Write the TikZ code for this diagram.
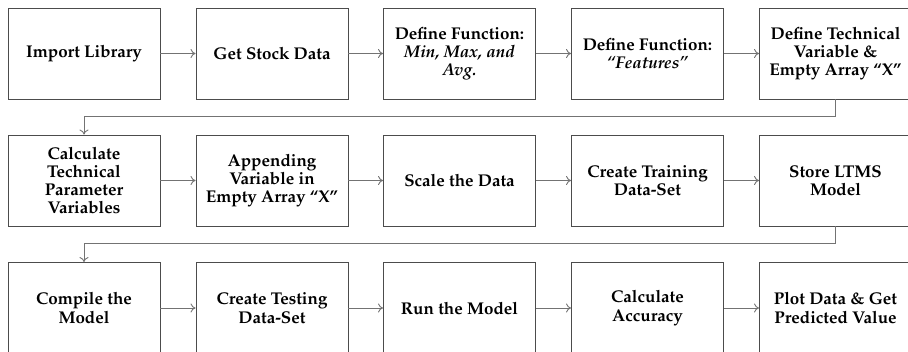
\documentclass[tikz,border=0pt]{standalone}
\usepackage[T1]{fontenc}
\usepackage{mathpazo}
\usetikzlibrary{calc,arrows.meta}
\tikzset{
  stepbox/.style={draw=black!70, line width=0.9pt, minimum width=152pt, minimum height=91pt,
    inner sep=2pt, align=center, font=\fontsize{17}{18.3}\selectfont\bfseries},
  arr/.style={draw=black!55, line width=0.9pt, -{To[length=5pt,width=9pt]}}
}
\begin{document}
\begin{tikzpicture}[x=1pt,y=-1pt]
\useasboundingbox (0,0) rectangle (908,351);
\clip (0,0) rectangle (908,351);
% row 1
\node[stepbox] (b1) at (84,53.5) {Import Library};
\node[stepbox] (b2) at (272,53.5) {Get Stock Data};
\node[stepbox] (b3) at (459.5,53.5) {Define Function:\\ \textit{Min, Max, and}\\ \textit{Avg.}};
\node[stepbox] (b4) at (647.5,53.5) {Define Function:\\ \textit{``Features''}};
\node[stepbox] (b5) at (835.5,53.5) {Define Technical\\ Variable \&\\ Empty Array ``X''};
% row 2
\node[stepbox] (b6) at (84,180.5) {Calculate\\ Technical\\ Parameter\\ Variables};
\node[stepbox] (b7) at (272,180.5) {Appending\\ Variable in\\ Empty Array ``X''};
\node[stepbox] (b8) at (459.5,180.5) {Scale the Data};
\node[stepbox] (b9) at (647.5,180.5) {Create Training\\ Data-Set};
\node[stepbox] (b10) at (835.5,180.5) {Store LTMS\\ Model};
% row 3
\node[stepbox] (b11) at (84,308) {Compile the\\ Model};
\node[stepbox] (b12) at (272,308) {Create Testing\\ Data-Set};
\node[stepbox] (b13) at (459.5,308) {Run the Model};
\node[stepbox] (b14) at (647.5,308) {Calculate\\ Accuracy};
\node[stepbox] (b15) at (835.5,308) {Plot Data \& Get\\ Predicted Value};
% connectors
\foreach \a/\b in {b1/b2,b2/b3,b3/b4,b4/b5,b6/b7,b7/b8,b8/b9,b9/b10,b11/b12,b12/b13,b13/b14,b14/b15}
  \draw[arr] (\a) -- (\b);
\coordinate (t1) at ($(b5.south)+(0,17)$);
\coordinate (t2) at ($(b10.south)+(0,17)$);
\draw[arr] (b5.south) -- (t1) -| (b6.north);
\draw[arr] (b10.south) -- (t2) -| (b11.north);
\end{tikzpicture}
\end{document}
